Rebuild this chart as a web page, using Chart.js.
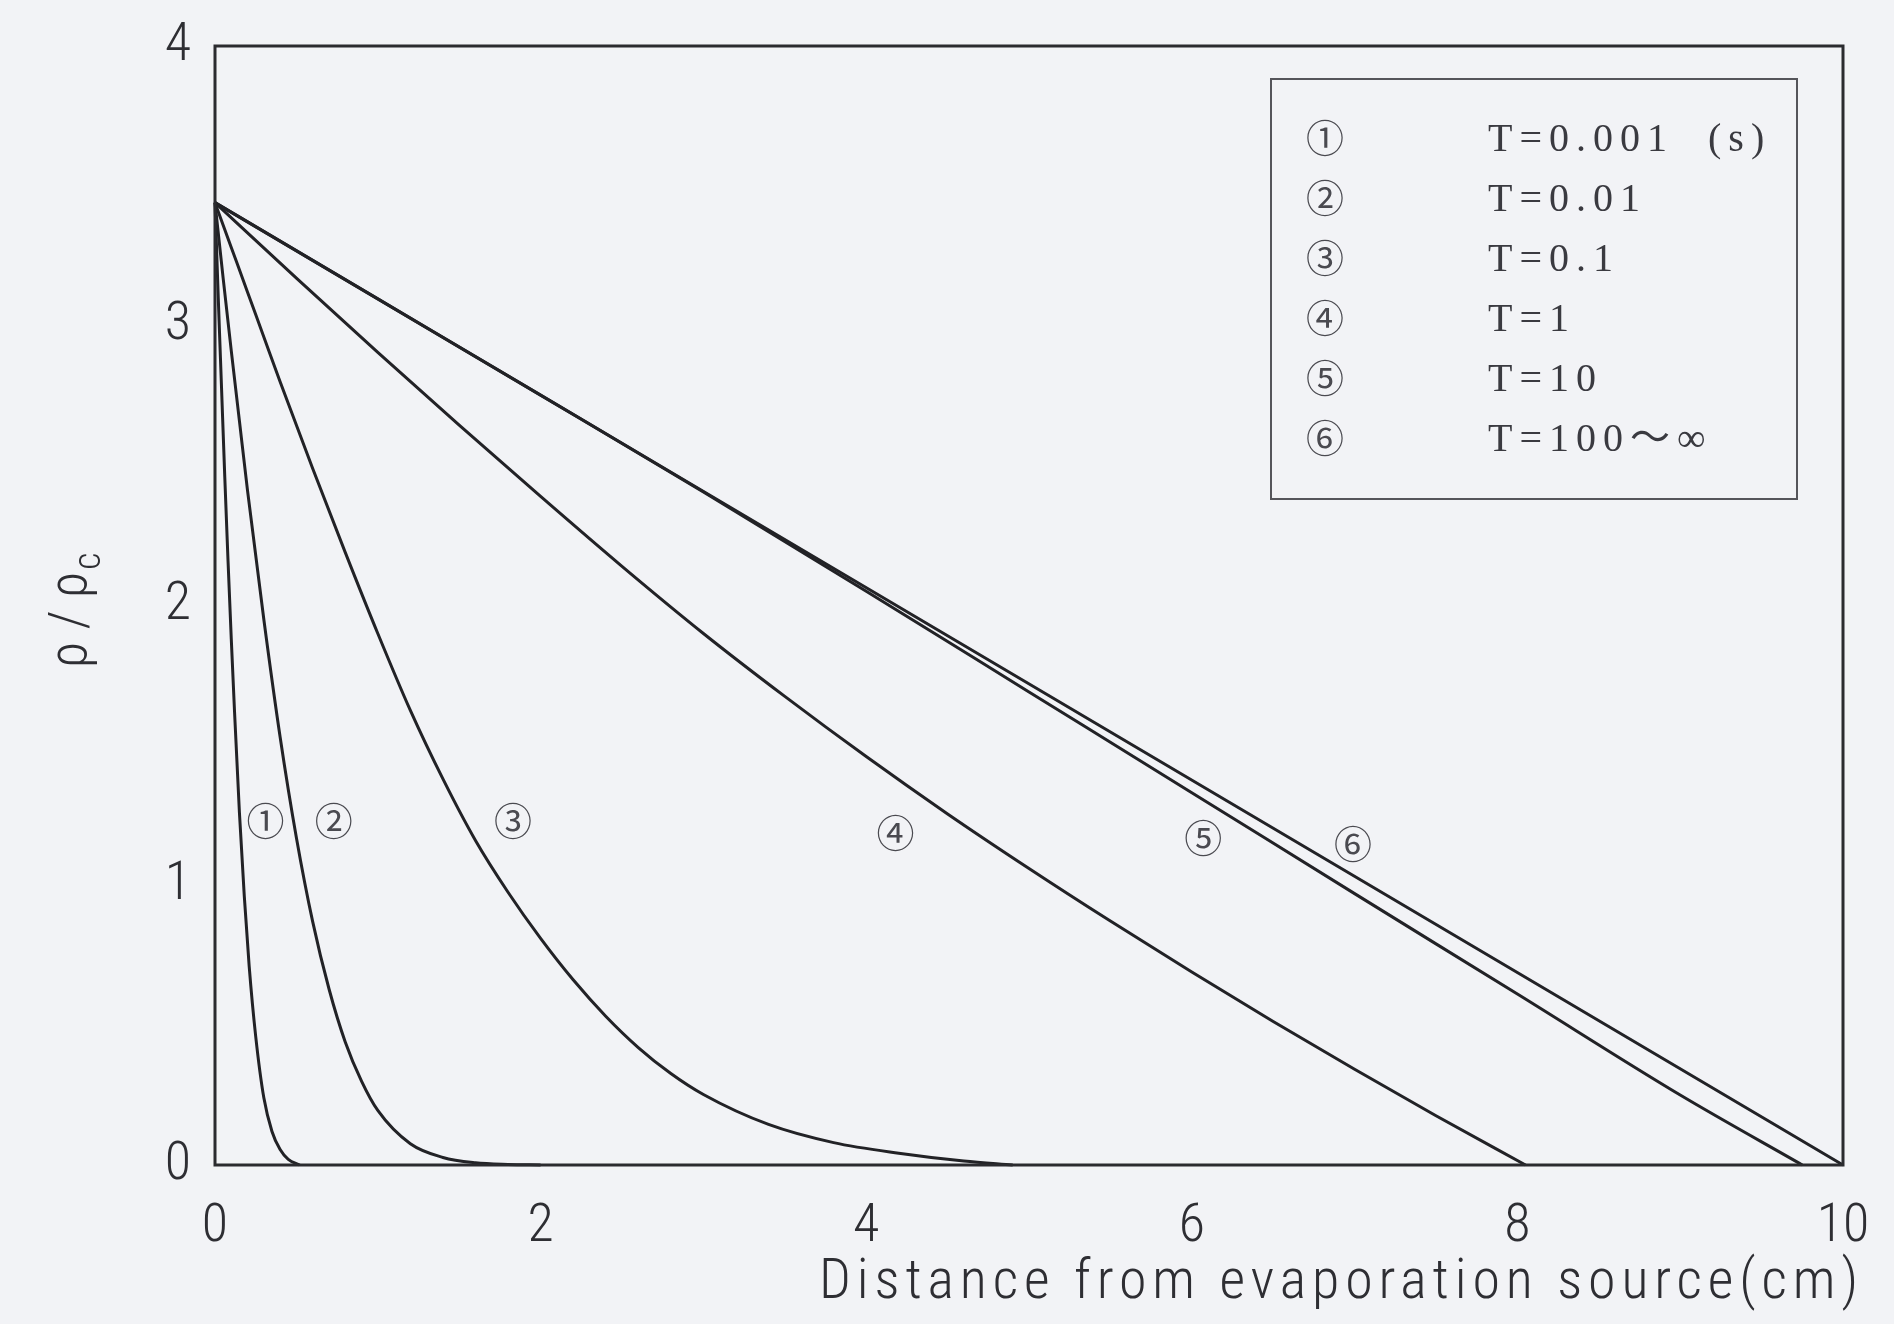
<!DOCTYPE html>
<html>
<head>
<meta charset="utf-8">
<script src="https://cdn.jsdelivr.net/npm/chart.js@4/dist/chart.umd.min.js"></script>
<style>
  html, body { margin: 0; padding: 0; background: #f2f3f6; }
  #wrap { width: 1894px; height: 1324px; }
</style>
</head>
<body>
<div id="wrap"><canvas id="c" width="1894" height="1324"></canvas></div>
<script>
// Density profiles rho/rho_c versus distance from the evaporation source (cm)
const curveMarks = ['①', '②', '③', '④', '⑤', '⑥'];
const curveNames = ['T=0.001  (s)', 'T=0.01', 'T=0.1', 'T=1', 'T=10', 'T=100～∞'];

const x1 = [0, 0.02, 0.04, 0.06, 0.08, 0.10, 0.12, 0.15, 0.18, 0.21, 0.25, 0.30, 0.35, 0.40, 0.45, 0.52];
const y1 = [3.44, 3.10, 2.78, 2.46, 2.16, 1.88, 1.62, 1.26, 0.96, 0.71, 0.46, 0.24, 0.12, 0.055, 0.02, 0];

const x2 = [0, 0.05, 0.1, 0.15, 0.2, 0.3, 0.4, 0.5, 0.6, 0.7, 0.8, 0.9, 1.0, 1.2, 1.4, 1.6, 1.8, 2.0];
const y2 = [3.44, 3.17, 2.91, 2.66, 2.41, 1.95, 1.53, 1.17, 0.87, 0.63, 0.44, 0.30, 0.195, 0.076, 0.027, 0.008, 0.002, 0];

const x3 = [0, 0.1, 0.2, 0.3, 0.4, 0.6, 0.8, 1.0, 1.2, 1.4, 1.6, 1.8, 2.0, 2.2, 2.4, 2.6, 2.8, 3.0, 3.4, 3.8, 4.2, 4.6, 4.9];
const y3 = [3.44, 3.28, 3.12, 2.96, 2.80, 2.49, 2.19, 1.90, 1.625, 1.38, 1.16, 0.975, 0.81, 0.662, 0.532, 0.42, 0.327, 0.252, 0.145, 0.08, 0.042, 0.014, 0];

const x4 = [0, 0.5, 1, 1.5, 2, 2.5, 3, 3.5, 4, 4.5, 5, 5.5, 6, 6.5, 7, 7.5, 8.05];
const y4 = [3.44, 3.17, 2.905, 2.645, 2.39, 2.14, 1.90, 1.675, 1.46, 1.255, 1.06, 0.872, 0.69, 0.513, 0.342, 0.176, 0];

const x5 = [0, 1, 2, 3, 4, 5, 6, 7, 8, 9, 9.75];
const y5 = [3.44, 3.096, 2.752, 2.406, 2.051, 1.691, 1.331, 0.97, 0.611, 0.25, 0];

const x6 = [0, 10];
const y6 = [3.44, 0];

// where the circled curve numbers sit (data units)
const markX = [0.31, 0.73, 1.83, 4.18, 6.07, 6.99];
const markY = [1.23, 1.23, 1.23, 1.19, 1.17, 1.15];

const xTitle = 'Distance from evaporation source(cm)';

const PAPER = '#f2f3f6';
const INK = '#222226';
const SANS = "'Roboto Condensed', 'Liberation Sans Narrow', Roboto, sans-serif";
const SERIF = "'Liberation Serif', 'Noto Sans CJK JP', serif";
const MARKFONT = "'Noto Sans CJK JP', sans-serif";

const allX = [x1, x2, x3, x4, x5, x6];
const allY = [y1, y2, y3, y4, y5, y6];

const datasets = allX.map((xs, i) => ({
  label: curveNames[i],
  data: xs.map((v, k) => ({ x: v, y: allY[i][k] })),
  borderColor: INK,
  borderWidth: 3,
  pointRadius: 0,
  cubicInterpolationMode: 'monotone',
  fill: false,
  clip: false
}));

const decor = {
  id: 'decor',
  beforeDraw(chart) {
    const { ctx, width, height } = chart;
    ctx.save();
    ctx.fillStyle = PAPER;
    ctx.fillRect(0, 0, width, height);
    ctx.restore();
  },
  afterDraw(chart) {
    const { ctx, chartArea: a, scales: { x, y } } = chart;
    ctx.save();

    // plot frame
    ctx.strokeStyle = '#2b2b2f';
    ctx.lineWidth = 3;
    ctx.strokeRect(a.left, a.top, a.right - a.left, a.bottom - a.top);

    // circled numbers beside each curve
    ctx.fillStyle = '#4a4a50';
    ctx.font = `38px ${MARKFONT}`;
    ctx.textAlign = 'center';
    ctx.textBaseline = 'middle';
    markX.forEach((v, i) => {
      ctx.fillText(curveMarks[i], x.getPixelForValue(v), y.getPixelForValue(markY[i]));
    });

    // legend box
    const bx = 1271, by = 79, bw = 526, bh = 420;
    ctx.strokeStyle = '#55555a';
    ctx.lineWidth = 2;
    ctx.strokeRect(bx, by, bw, bh);
    curveNames.forEach((name, i) => {
      const ry = 138 + i * 60;
      ctx.font = `38px ${MARKFONT}`;
      ctx.textAlign = 'center';
      ctx.fillStyle = '#4a4a50';
      ctx.fillText(curveMarks[i], 1325, ry);
      ctx.font = `40px ${SERIF}`;
      ctx.textAlign = 'left';
      ctx.fillStyle = '#3a3a40';
      ctx.letterSpacing = '7px';
      ctx.fillText(name, 1488, ry + 2);
      ctx.letterSpacing = '0px';
    });

    // x axis title, spread to its span
    ctx.font = `300 56px ${SANS}`;
    ctx.fillStyle = '#2e2e33';
    ctx.textAlign = 'left';
    ctx.textBaseline = 'alphabetic';
    const natural = ctx.measureText(xTitle).width;
    const span = 1039;
    const extra = Math.max(0, (span - natural) / (xTitle.length - 1));
    ctx.letterSpacing = extra.toFixed(2) + 'px';
    ctx.fillText(xTitle, 819, 1298);
    ctx.letterSpacing = '0px';

    // y axis title, rotated
    ctx.translate(86, 612);
    ctx.rotate(-Math.PI / 2);
    ctx.font = `300 54px ${SANS}`;
    ctx.textAlign = 'left';
    ctx.textBaseline = 'alphabetic';
    const main = 'ρ / ρ';
    const w = ctx.measureText(main).width;
    ctx.fillText(main, -w / 2 - 8, 0);
    ctx.font = `300 38px ${SANS}`;
    ctx.fillText('c', w / 2 - 6, 14);

    ctx.restore();
  }
};

new Chart(document.getElementById('c'), {
  type: 'line',
  data: { datasets },
  options: {
    responsive: false,
    animation: false,
    layout: { padding: { left: 0, top: 46, right: 51, bottom: 0 } },
    plugins: { legend: { display: false }, tooltip: { enabled: false } },
    scales: {
      x: {
        type: 'linear', min: 0, max: 10,
        ticks: { stepSize: 2, padding: 30, color: '#2e2e33', font: { family: SANS, size: 54, weight: 300 } },
        grid: { display: false, drawTicks: false },
        border: { display: false },
        afterFit(s) { s.height = 159; s.paddingLeft = 0; s.paddingRight = 0; }
      },
      y: {
        type: 'linear', min: 0, max: 4,
        ticks: { stepSize: 1, padding: 24, color: '#2e2e33', font: { family: SANS, size: 54, weight: 300 } },
        grid: { display: false, drawTicks: false },
        border: { display: false },
        afterFit(s) { s.width = 215; s.paddingTop = 0; s.paddingBottom = 0; }
      }
    }
  },
  plugins: [decor]
});
</script>
</body>
</html>
